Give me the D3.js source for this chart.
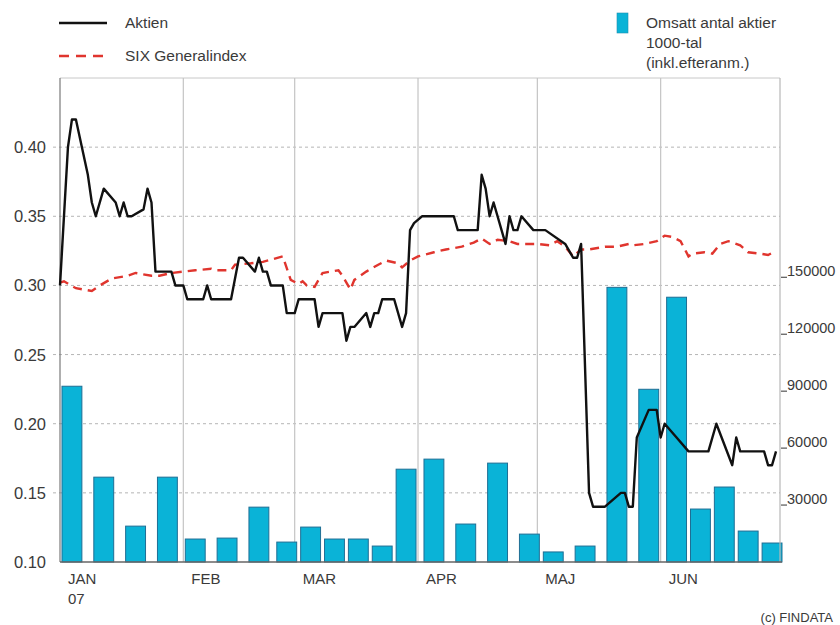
<!DOCTYPE html>
<html><head><meta charset="utf-8">
<script src="https://cdn.jsdelivr.net/npm/d3@7"></script>
<style>body{margin:0;background:#fff}svg{display:block}text{font-family:"Liberation Sans",Arial,sans-serif;fill:#3a3a3a}</style>
</head><body>
<script>
// ---- data ----
const monthLabels = ["JAN","FEB","MAR","APR","MAJ","JUN"];
const monthStarts = ["2007-01-01","2007-02-01","2007-03-01","2007-04-01","2007-05-01","2007-06-01"];
const leftTicks = [0.10,0.15,0.20,0.25,0.30,0.35,0.40];
const rightTicks = [30000,60000,90000,120000,150000];

const volDates = ["2007-01-01","2007-01-09","2007-01-17","2007-01-25","2007-02-01","2007-02-09","2007-02-17","2007-02-24",
  "2007-03-02","2007-03-08","2007-03-14","2007-03-20","2007-03-26","2007-04-02","2007-04-10","2007-04-18","2007-04-26",
  "2007-05-02","2007-05-10","2007-05-18","2007-05-26","2007-06-02","2007-06-08","2007-06-14","2007-06-20","2007-06-26"];
const volValues = [92600,44700,18900,44700,12100,12600,28900,10500,18400,12100,12100,8400,48900,54200,20000,52100,14700,
  5300,8400,144700,91000,139500,27900,39500,16300,10000];

const aktienDates = ["2007-01-01","2007-01-03","2007-01-04","2007-01-05","2007-01-08","2007-01-09","2007-01-10","2007-01-12",
  "2007-01-15","2007-01-16","2007-01-17","2007-01-18","2007-01-19","2007-01-22","2007-01-23","2007-01-24","2007-01-25",
  "2007-01-29","2007-01-30","2007-02-01","2007-02-02","2007-02-06","2007-02-07","2007-02-08","2007-02-13","2007-02-15",
  "2007-02-16","2007-02-19","2007-02-20","2007-02-21","2007-02-22","2007-02-23","2007-02-26","2007-02-27","2007-03-01",
  "2007-03-02","2007-03-06","2007-03-07","2007-03-08","2007-03-13","2007-03-14","2007-03-15","2007-03-16","2007-03-19",
  "2007-03-20","2007-03-21","2007-03-22","2007-03-23","2007-03-26","2007-03-28","2007-03-29","2007-03-30","2007-03-31",
  "2007-04-02","2007-04-10","2007-04-11","2007-04-16","2007-04-17","2007-04-18","2007-04-19","2007-04-20","2007-04-23",
  "2007-04-24","2007-04-25","2007-04-26","2007-04-27","2007-04-30","2007-05-03","2007-05-08","2007-05-10","2007-05-11",
  "2007-05-12","2007-05-14","2007-05-15","2007-05-18","2007-05-22","2007-05-23","2007-05-24","2007-05-25","2007-05-26",
  "2007-05-29","2007-05-31","2007-06-01","2007-06-02","2007-06-05","2007-06-08","2007-06-13","2007-06-15","2007-06-19",
  "2007-06-20","2007-06-21","2007-06-27","2007-06-28","2007-06-29","2007-06-30"];
const aktienValues = [0.30,0.40,0.42,0.42,0.38,0.36,0.35,0.37,
  0.36,0.35,0.36,0.35,0.35,0.355,0.37,0.36,0.31,
  0.31,0.30,0.30,0.29,0.29,0.30,0.29,0.29,0.32,
  0.32,0.31,0.32,0.31,0.31,0.30,0.30,0.28,0.28,
  0.29,0.29,0.27,0.28,0.28,0.26,0.27,0.27,0.28,
  0.27,0.28,0.28,0.29,0.29,0.27,0.28,0.34,0.345,
  0.35,0.35,0.34,0.34,0.38,0.37,0.35,0.36,0.33,
  0.35,0.34,0.34,0.35,0.34,0.34,0.33,0.32,0.32,
  0.33,0.15,0.14,0.14,0.15,0.15,0.14,0.14,0.19,
  0.21,0.21,0.19,0.20,0.19,0.18,0.18,0.20,0.17,
  0.19,0.18,0.18,0.17,0.17,0.18];

const sixDates = ["2007-01-01","2007-01-02","2007-01-05","2007-01-09","2007-01-11","2007-01-14","2007-01-18","2007-01-20",
  "2007-01-24","2007-01-26","2007-01-29","2007-02-01","2007-02-04","2007-02-08","2007-02-09","2007-02-13","2007-02-14",
  "2007-02-18","2007-02-21","2007-02-26","2007-02-28","2007-03-02","2007-03-03","2007-03-04","2007-03-06","2007-03-08",
  "2007-03-12","2007-03-13","2007-03-15","2007-03-16","2007-03-19","2007-03-22","2007-03-24","2007-03-27","2007-03-28",
  "2007-03-30","2007-04-01","2007-04-05","2007-04-08","2007-04-12","2007-04-15","2007-04-17","2007-04-19","2007-04-21",
  "2007-04-24","2007-04-26","2007-04-28","2007-05-01","2007-05-04","2007-05-06","2007-05-08","2007-05-10","2007-05-12",
  "2007-05-14","2007-05-18","2007-05-21","2007-05-24","2007-05-25","2007-05-28","2007-05-31","2007-06-02","2007-06-04",
  "2007-06-06","2007-06-08","2007-06-09","2007-06-12","2007-06-14","2007-06-16","2007-06-18","2007-06-21","2007-06-23",
  "2007-06-26","2007-06-28","2007-06-30"];
const sixValues = [0.302,0.303,0.298,0.296,0.300,0.305,0.307,0.309,
  0.307,0.307,0.309,0.310,0.311,0.312,0.311,0.311,0.315,
  0.316,0.317,0.321,0.304,0.301,0.303,0.300,0.299,0.309,
  0.311,0.307,0.297,0.304,0.310,0.315,0.318,0.316,0.313,
  0.318,0.321,0.324,0.326,0.328,0.331,0.334,0.330,0.333,
  0.332,0.330,0.330,0.330,0.329,0.332,0.328,0.321,0.326,
  0.326,0.328,0.328,0.330,0.329,0.330,0.332,0.336,0.335,
  0.332,0.321,0.323,0.324,0.323,0.330,0.332,0.329,0.324,
  0.323,0.322,0.325];

// ---- chart ----
const W = 840, H = 625;
const m = {left:60, right:780, top:78, bottom:562};
const parse = d3.timeParse("%Y-%m-%d");
const svg = d3.select("body").append("svg").attr("width", W).attr("height", H);

const x = d3.scaleTime().domain([parse("2007-01-01"), parse("2007-07-01")]).range([m.left, m.right]);
const yL = d3.scaleLinear().domain([0.10, 0.45]).range([m.bottom, m.top]);
const yR = d3.scaleLinear().domain([0, 255000]).range([m.bottom, m.top]);

// top frame line
svg.append("line").attr("x1", m.left).attr("x2", m.right).attr("y1", m.top).attr("y2", m.top)
  .attr("stroke", "#c8c8c8").attr("stroke-width", 1);

// horizontal dashed gridlines
svg.append("g").selectAll("line").data(leftTicks.slice(1)).join("line")
  .attr("x1", 53).attr("x2", m.right)
  .attr("y1", d => yL(d)).attr("y2", d => yL(d))
  .attr("stroke", "#b5b5b5").attr("stroke-width", 1).attr("stroke-dasharray", "3,3");

// vertical month gridlines
svg.append("g").selectAll("line").data(monthStarts.slice(1)).join("line")
  .attr("x1", d => x(parse(d))).attr("x2", d => x(parse(d)))
  .attr("y1", m.top).attr("y2", m.bottom)
  .attr("stroke", "#c4c4c4").attr("stroke-width", 1.2);

// bars
const bars = volDates.map((d, i) => ({d: d3.timeHour.offset(parse(d), 12), v: volValues[i]}));
svg.append("g").selectAll("rect").data(bars).join("rect")
  .attr("x", d => x(d.d))
  .attr("width", d => x(d3.timeDay.offset(d.d, 5)) - x(d.d))
  .attr("y", d => yR(d.v))
  .attr("height", d => yR(0) - yR(d.v))
  .attr("fill", "#0ab3d7").attr("stroke", "#1f6e94").attr("stroke-width", 1);

// axes lines
svg.append("line").attr("x1", m.left).attr("x2", m.left).attr("y1", m.top).attr("y2", m.bottom)
  .attr("stroke", "#7a7a7a").attr("stroke-width", 1.2);
svg.append("line").attr("x1", m.right).attr("x2", m.right).attr("y1", m.top).attr("y2", m.bottom)
  .attr("stroke", "#b8b8b8").attr("stroke-width", 1.2);
svg.append("line").attr("x1", m.left).attr("x2", m.right + 2).attr("y1", m.bottom).attr("y2", m.bottom)
  .attr("stroke", "#666").attr("stroke-width", 1.6);

// lines
const six = sixDates.map((d, i) => ({d: parse(d), v: sixValues[i]}));
const akt = aktienDates.map((d, i) => ({d: parse(d), v: aktienValues[i]}));
const lineGen = d3.line().x(d => x(d.d)).y(d => yL(d.v));
svg.append("path").datum(six).attr("d", lineGen).attr("fill", "none")
  .attr("stroke", "#e0352e").attr("stroke-width", 2.4).attr("stroke-dasharray", "9,6");
svg.append("path").datum(akt).attr("d", lineGen).attr("fill", "none")
  .attr("stroke", "#111").attr("stroke-width", 2.4).attr("stroke-linejoin", "round");

// left tick labels
svg.append("g").selectAll("text").data(leftTicks).join("text")
  .attr("x", 46).attr("y", d => yL(d) + 6).attr("text-anchor", "end")
  .attr("font-size", 16.5).text(d => d3.format(".2f")(d));

// right tick marks and labels
const rg = svg.append("g");
rg.selectAll("line").data(rightTicks).join("line")
  .attr("x1", m.right + 1).attr("x2", m.right + 7)
  .attr("y1", d => yR(d)).attr("y2", d => yR(d))
  .attr("stroke", "#555").attr("stroke-width", 1.2);
rg.selectAll("text").data(rightTicks).join("text")
  .attr("x", m.right + 7).attr("y", d => yR(d) - 1)
  .attr("font-size", 14.5).text(d => d);

// month labels
svg.append("g").selectAll("text").data(monthStarts).join("text")
  .attr("x", d => x(parse(d)) + 8).attr("y", 584)
  .attr("font-size", 15).text((d, i) => monthLabels[i]);
svg.append("text").attr("x", x(parse(monthStarts[0])) + 8).attr("y", 604).attr("font-size", 15).text("07");

svg.append("text").attr("x", 833).attr("y", 622).attr("text-anchor", "end").attr("font-size", 13).text("(c) FINDATA");

// legend
svg.append("line").attr("x1", 59).attr("x2", 107).attr("y1", 23).attr("y2", 23)
  .attr("stroke", "#111").attr("stroke-width", 2.4);
svg.append("text").attr("x", 125).attr("y", 28).attr("font-size", 15.5).text("Aktien");
svg.append("line").attr("x1", 59).attr("x2", 107).attr("y1", 56).attr("y2", 56)
  .attr("stroke", "#e0352e").attr("stroke-width", 2.4).attr("stroke-dasharray", "10,7");
svg.append("text").attr("x", 125).attr("y", 61).attr("font-size", 15.5).text("SIX Generalindex");
svg.append("rect").attr("x", 617).attr("y", 13).attr("width", 11).attr("height", 20)
  .attr("fill", "#0ab3d7").attr("stroke", "#1f8fb0").attr("stroke-width", 0.6);
const lt = ["Omsatt antal aktier", "1000-tal", "(inkl.efteranm.)"];
svg.append("g").selectAll("text").data(lt).join("text")
  .attr("x", 646).attr("y", (d, i) => 28 + i * 20).attr("font-size", 15.5).text(d => d);
</script>
</body></html>
